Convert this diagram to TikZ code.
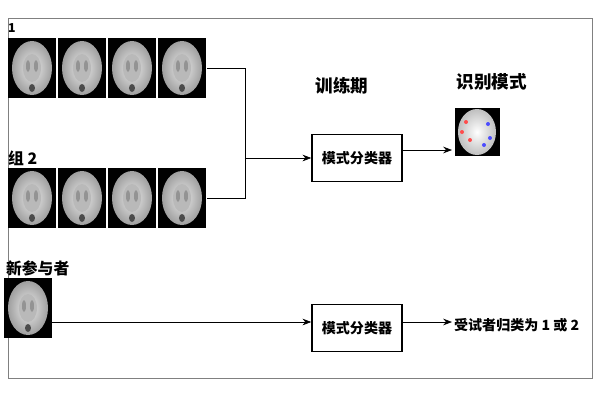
\documentclass[tikz,border=0pt]{standalone}
\usepackage{fontspec}
\setmainfont{Noto Sans CJK SC}
\usetikzlibrary{arrows.meta}
\tikzset{
  classbox/.style={draw, thick, minimum width=1.8cm, minimum height=0.95cm, font=\footnotesize\bfseries},
  label/.style={font=\bfseries, inner sep=1pt},
  wire/.style={thin},
  flow/.style={thin, -{Stealth[length=5pt]}}
}
% one brain slice picture, centred at #1
\newcommand\brainpic[1]{%
  \begin{scope}[shift={#1}]
    \fill[black] (-24,-30) rectangle (24,30);
    \shade[inner color=gray!15, outer color=gray!75] (0,0) ellipse (20 and 27);
    \fill[gray!55] (0,0) ellipse (9 and 14);
    \fill[gray!85] (-4,-2) ellipse (2 and 6);
    \fill[gray!85] (4,-2) ellipse (2 and 6);
    \fill[black!70] (0,20) ellipse (3 and 4);
  \end{scope}}
\begin{document}
\begin{tikzpicture}[x=0.02cm,y=-0.02cm]
  \useasboundingbox (0,0) rectangle (600,400);
  \draw[gray] (8,18) rectangle (592,378);

  \node[label, anchor=west] (g1) at (6,28) {\scriptsize 1};
  \foreach \i in {0,...,3} {\brainpic{(32+\i*50,68)}}
  \node[label, anchor=west] (g2) at (6,158) {\small 组 2};
  \foreach \i in {0,...,3} {\brainpic{(32+\i*50,198)}}
  \node[label, anchor=west] (new) at (4,268) {\small 新参与者};
  \brainpic{(28,308)}

  \node[label] (train) at (342,86) {训练期};
  \node[label] (ident) at (492,82) {识别模式};
  \node[classbox] (cls1) at (357,158) {模式分类器};
  \node[classbox] (cls2) at (357,328) {模式分类器};

  % recognised pattern
  \fill[black] (455,108) rectangle (500,156);
  \shade[inner color=white, outer color=gray!50] (477,132) ellipse (19 and 23);
  \foreach \p in {(466,122),(470,140),(462,132)} \fill[red!70] \p circle (2);
  \foreach \p in {(488,124),(490,138),(484,145)} \fill[blue!70] \p circle (2);
  \coordinate (pat) at (452,150);

  \coordinate (j1) at (245,68);
  \coordinate (j2) at (245,198);
  \coordinate (jm) at (245,158);
  \draw[wire] (207,68) -- (j1) -- (j2) -- (207,198);
  \draw[flow] (jm) -- (cls1);
  \draw[flow] (cls1.east |- pat) -- (pat);

  \draw[flow] (52,322) -- (cls2.west |- 0,322);
  \node[label, anchor=west] (result) at (452,325) {\footnotesize 受试者归类为 1 或 2};
  \draw[flow] (cls2.east |- 0,322) -- (result.west |- 0,322);
\end{tikzpicture}
\end{document}
